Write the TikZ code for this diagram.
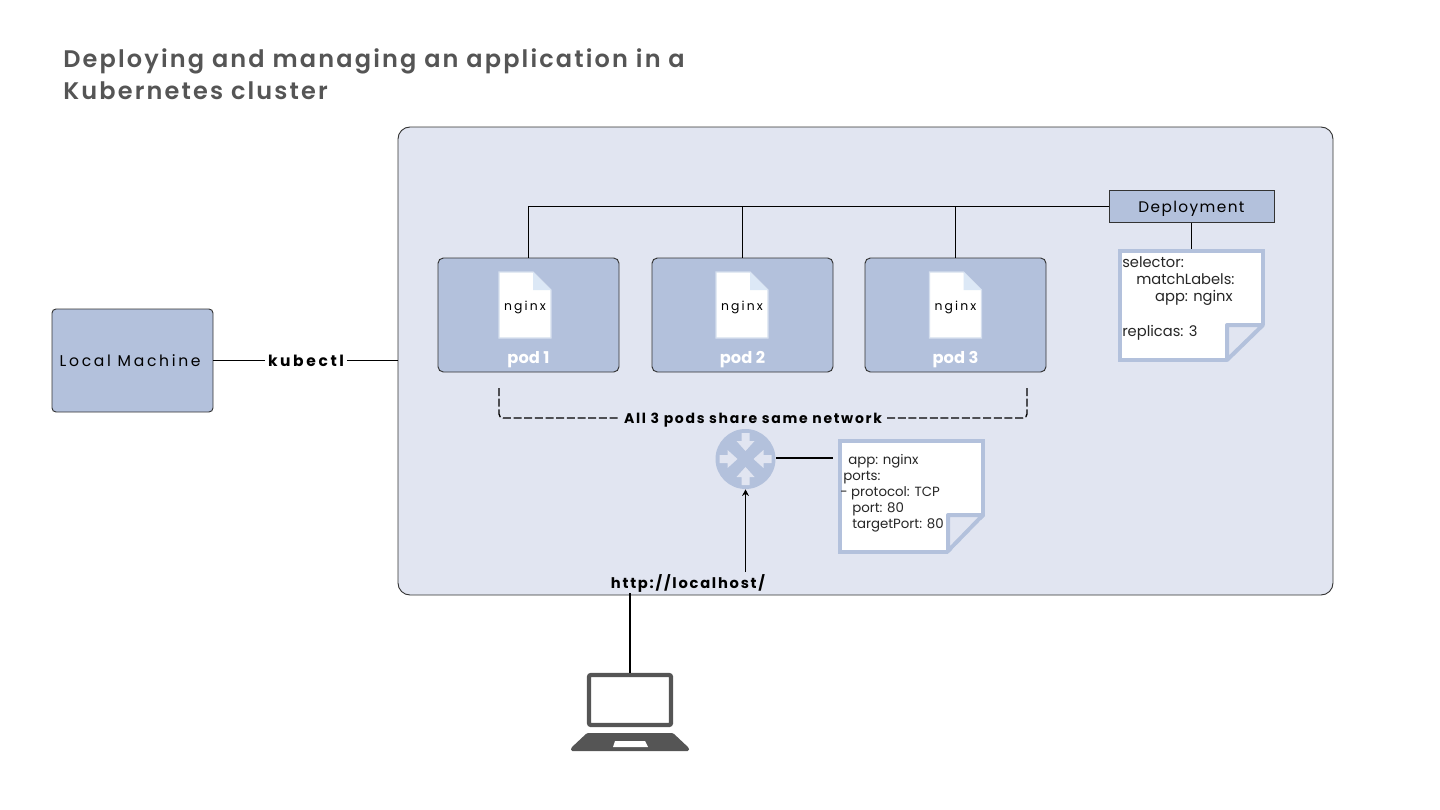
\documentclass[tikz,border=0pt]{standalone}
\usepackage{fontspec}
\usepackage{xcolor}
\usetikzlibrary{positioning,arrows.meta,calc}
\setmainfont{Poppins}
\newfontfamily\spaced{Poppins}[LetterSpace=9]
\newfontfamily\netspaced{Poppins}[LetterSpace=12]
\newfontfamily\wider{Poppins}[LetterSpace=17]
\newfontfamily\titlefont{Poppins SemiBold}[LetterSpace=9]
\definecolor{clusterbg}{HTML}{E1E5F1}
\definecolor{boxbg}{HTML}{B3C1DC}
\definecolor{inkgrey}{HTML}{555555}
\definecolor{filefold}{HTML}{DCE8F6}
\definecolor{fileline}{HTML}{D5DFEE}
\tikzset{
  boxnode/.style={rectangle, draw=black!80, fill=boxbg, line width=0.7pt, inner sep=0pt},
  wire/.style={draw=black, line width=1.3pt},
  netdash/.style={black, line width=1pt, dash pattern=on 6pt off 2pt, rounded corners=3pt},
  notebox/.style={rectangle, draw=boxbg, fill=white, line width=3pt, inner sep=0pt},
  notefold/.style={draw=boxbg, fill=clusterbg, line width=3pt, line join=round},
  labeltext/.style={font=\fontsize{10.5}{12}\selectfont\bfseries, text=black, inner sep=2pt, text depth=0pt},
  notetext/.style={align=left, anchor=north west, inner sep=0pt, text=black!85}
}
\begin{document}
\begin{tikzpicture}[x=0.75pt,y=-0.75pt]
        \useasboundingbox (0,0) rectangle (1440,810);

        % Title
        \node[anchor=west, inner sep=0pt, text=inkgrey, align=left, font=\titlefont\fontsize{18}{24}\selectfont] (title) at (63,74) {Deploying and managing an application in a\\Kubernetes cluster};

        % Cluster and local machine
        \node[boxnode, fill=clusterbg, rounded corners=9pt, minimum width=935*0.75pt, minimum height=468*0.75pt] (cluster) at (865.5,361) {};
        \node[boxnode, rounded corners=3pt, minimum width=161*0.75pt, minimum height=103*0.75pt, font=\wider\fontsize{11.7}{14}\selectfont] (local) at (132.5,360.5) {Local Machine\hspace*{3.5pt}};
        \node[labeltext, font=\wider\bfseries\fontsize{11.6}{12}\selectfont] (kubectl) at (306,360.5) {kubectl};
        \draw[wire] (local.east) -- (kubectl.west);
        \draw[wire] (kubectl.east) -- (kubectl.east -| cluster.west);

        % Deployment
        \node[boxnode, minimum width=165*0.75pt, minimum height=32*0.75pt, text depth=0pt, font=\spaced\fontsize{11.5}{14}\selectfont] (deploy) at (1191.5,206.5) {Deployment};

        % Pods with their file icons
        \foreach \n/\x/\f in {1/528.5/0, 2/742.5/3, 3/955.5/3.5} {
          \node[boxnode, rounded corners=4pt, minimum width=181*0.75pt, minimum height=114*0.75pt] (pod\n) at (\x,315) {};
          \begin{scope}[shift={(\x+\f,0)}]
            \draw[fileline, fill=white, line width=1pt] (-29.5,272) -- (4.5,272) -- (22.5,290) -- (22.5,338) -- (-29.5,338) -- cycle;
            \fill[filefold] (4.5,272) -- (22.5,290) -- (4.5,290) -- cycle;
          \end{scope}
          \node[text depth=0pt, font=\wider\fontsize{9.3}{11}\selectfont, text=black] (file\n) at (\x+\f-3.5,306) {nginx};
          \node[text depth=0pt, font=\fontsize{12.2}{14}\selectfont\bfseries, text=white] (podname\n) at (\x,357.5) {pod \n};
          \draw[wire] (deploy.west) -| (pod\n.north);
        }

        % Deployment note
        \node[notebox, minimum width=143*0.75pt, minimum height=109*0.75pt] (deploynote) at (1191.5,305.5) {};
        \fill[clusterbg] (1266,323) -- (1268,364) -- (1225,364) -- cycle;
        \draw[notefold] (1227,360) -- (1227,325) -- (1263,325) -- cycle;
        \node[notetext, font=\fontsize{11}{13}\selectfont] (deploytext) at (1122,256) {selector:\\\hspace*{10.5pt}matchLabels:\\\hspace*{24.7pt}app: nginx\\[13pt]replicas: 3};
        \draw[wire] (deploy.south) -- (deploynote.north);

        % Shared network bracket
        \node[labeltext, inner sep=3pt, font=\netspaced\bfseries\fontsize{10.5}{12}\selectfont] (netlabel) at (753,418) {All 3 pods share same network};
        \coordinate (netleft) at (499,388);
        \coordinate (netright) at (1027,388);
        \draw[netdash] (netleft) |- (netlabel.west);
        \draw[netdash] (netright) |- (netlabel.east);

        % Service
        \node[circle, fill=boxbg, minimum size=60*0.75pt, inner sep=0pt] (service) at (745.5,459) {};
        \foreach \a in {0,90,180,270} {
          \fill[clusterbg, shift={(service.center)}, rotate=\a] (-4,-26) -- (4,-26) -- (4,-18) -- (9,-18) -- (0,-8) -- (-9,-18) -- (-4,-18) -- cycle;
        }
        \node[notebox, minimum width=143*0.75pt, minimum height=111*0.75pt] (servicenote) at (911.5,496) {};
        \fill[clusterbg] (987,514) -- (989,556) -- (946,556) -- cycle;
        \draw[notefold] (948,551) -- (948,515) -- (983,515) -- cycle;
        \node[notetext, font=\fontsize{10}{12}\selectfont] (servicetext) at (840,454) {\hspace*{6pt}app: nginx\\\hspace*{2.3pt}ports:\\- protocol: TCP\\\hspace*{9pt}port: 80\\\hspace*{9pt}targetPort: 80};
        \coordinate (noteend) at ($(servicenote.west)+(-5,-38)$);
        \draw[wire] (service.east |- noteend) -- (noteend);

        % Laptop
        \node[labeltext, font=\netspaced\bfseries\fontsize{11}{12}\selectfont] (http) at (688,582) {http://localhost/};
        \draw[wire, -{Stealth[length=5pt,width=5pt]}] (service.south |- http.north) -- (service.south);
        \node[rectangle, draw=inkgrey, fill=white, line width=3.2pt, rounded corners=1.5pt, minimum width=82*0.75pt, minimum height=50*0.75pt] (laptop) at (630,700) {};
        \coordinate (httpfoot) at (630,593);
        \draw[wire] (httpfoot) -- (laptop.north);
        \fill[inkgrey, rounded corners=1pt] (587,733) -- (673,733) -- (689,748) -- (689,751) -- (571,751) -- (571,748) -- cycle;
        \fill[white] (615,741) -- (645,741) -- (648,747) -- (613,747) -- cycle;
\end{tikzpicture}
\end{document}
